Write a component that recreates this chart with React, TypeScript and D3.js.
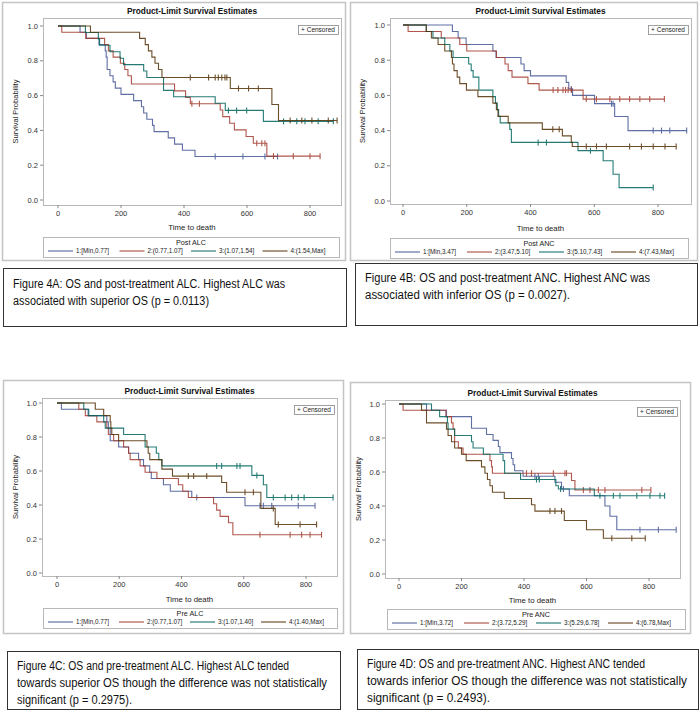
import React from "react";
import * as d3 from "d3";

type Step = [number, number];

// ---- Figure 4A: Post ALC ----
const postAlc1: Step[] = [[0, 1], [70, 0.964], [90, 0.929], [130, 0.893], [150, 0.857], [153, 0.821], [156, 0.75], [165, 0.714], [175, 0.679], [182, 0.643], [200, 0.607], [240, 0.571], [265, 0.536], [272, 0.5], [282, 0.464], [300, 0.429], [305, 0.393], [350, 0.357], [370, 0.321], [395, 0.286], [435, 0.25], [697, 0.25]];
const postAlc1Cens = [499, 587, 657, 697];
const postAlc2: Step[] = [[0, 1], [12, 0.964], [88, 0.929], [148, 0.893], [160, 0.857], [175, 0.821], [198, 0.786], [212, 0.75], [222, 0.714], [233, 0.667], [370, 0.627], [405, 0.59], [420, 0.553], [515, 0.517], [523, 0.479], [545, 0.441], [560, 0.403], [597, 0.365], [620, 0.326], [663, 0.252], [832, 0.252]];
const postAlc2Cens = [425, 449, 631, 647, 657, 684, 747, 800, 832];
const postAlc3: Step[] = [[0, 1], [87, 0.963], [128, 0.926], [132, 0.889], [165, 0.852], [197, 0.815], [208, 0.778], [272, 0.741], [282, 0.704], [335, 0.63], [367, 0.593], [499, 0.556], [531, 0.515], [652, 0.452], [874, 0.452]];
const postAlc3Cens = [541, 567, 599, 716, 758, 784, 826, 874];
const postAlc4: Step[] = [[0, 1], [103, 0.964], [259, 0.929], [277, 0.893], [287, 0.857], [298, 0.821], [308, 0.786], [319, 0.75], [330, 0.704], [547, 0.641], [679, 0.549], [700, 0.457], [886, 0.457]];
const postAlc4Cens = [420, 478, 499, 509, 520, 530, 536, 573, 605, 636, 737, 774, 806, 858, 886];

// ---- Figure 4B: Post ANC ----
const postAnc1: Step[] = [[0, 1], [155, 0.963], [173, 0.926], [198, 0.889], [282, 0.852], [292, 0.815], [370, 0.778], [380, 0.741], [400, 0.711], [512, 0.674], [520, 0.637], [532, 0.6], [601, 0.553], [664, 0.48], [706, 0.4], [890, 0.4]];
const postAnc1Cens = [528, 654, 659, 785, 811, 837, 890];
const postAnc2: Step[] = [[0, 1], [16, 0.963], [120, 0.926], [178, 0.889], [200, 0.852], [293, 0.815], [320, 0.778], [330, 0.741], [342, 0.704], [392, 0.667], [427, 0.63], [565, 0.579], [820, 0.579]];
const postAnc2Cens = [471, 486, 502, 510, 518, 528, 575, 607, 649, 680, 711, 743, 774, 820];
const postAnc3: Step[] = [[0, 1], [73, 0.963], [94, 0.926], [131, 0.889], [147, 0.852], [157, 0.815], [206, 0.778], [214, 0.741], [220, 0.704], [238, 0.63], [282, 0.593], [290, 0.556], [296, 0.519], [300, 0.481], [305, 0.444], [335, 0.407], [340, 0.333], [549, 0.286], [628, 0.229], [659, 0.152], [678, 0.076], [785, 0.076]];
const postAnc3Cens = [424, 450, 588, 785];
const postAnc4: Step[] = [[0, 1], [73, 0.963], [89, 0.926], [110, 0.889], [131, 0.852], [152, 0.815], [155, 0.778], [160, 0.741], [170, 0.704], [178, 0.667], [199, 0.63], [235, 0.593], [282, 0.556], [293, 0.519], [298, 0.481], [330, 0.444], [437, 0.407], [500, 0.37], [528, 0.333], [531, 0.31], [857, 0.31]];
const postAnc4Cens = [470, 490, 575, 607, 638, 711, 748, 785, 822, 857];

// ---- Figure 4C: Pre ALC ----
const preAlc1: Step[] = [[0, 1], [14, 0.963], [100, 0.926], [160, 0.889], [165, 0.852], [171, 0.778], [198, 0.741], [230, 0.704], [262, 0.667], [278, 0.63], [298, 0.593], [303, 0.556], [342, 0.519], [364, 0.481], [433, 0.444], [604, 0.396], [829, 0.396]];
const preAlc1Cens = [449, 652, 663, 690, 775, 829];
const preAlc2: Step[] = [[0, 1], [70, 0.963], [91, 0.926], [128, 0.889], [160, 0.852], [165, 0.815], [182, 0.778], [214, 0.741], [230, 0.704], [235, 0.667], [267, 0.63], [283, 0.593], [321, 0.556], [390, 0.519], [404, 0.481], [422, 0.444], [503, 0.407], [513, 0.37], [524, 0.333], [551, 0.296], [565, 0.225], [850, 0.225]];
const preAlc2Cens = [652, 749, 786, 813, 850];
const preAlc3: Step[] = [[0, 1], [86, 0.963], [102, 0.926], [150, 0.889], [155, 0.852], [214, 0.815], [283, 0.741], [319, 0.704], [327, 0.667], [337, 0.63], [626, 0.574], [663, 0.519], [674, 0.444], [887, 0.444]];
const preAlc3Cens = [513, 529, 578, 588, 642, 695, 733, 754, 775, 794, 887];
const preAlc4: Step[] = [[0, 1], [123, 0.963], [150, 0.926], [171, 0.889], [173, 0.852], [176, 0.815], [198, 0.778], [289, 0.741], [293, 0.704], [298, 0.667], [337, 0.611], [371, 0.57], [529, 0.532], [545, 0.475], [655, 0.38], [701, 0.285], [834, 0.285]];
const preAlc4Cens = [422, 439, 481, 604, 631, 695, 711, 781, 834];

// ---- Figure 4D: Pre ANC ----
const preAnc1: Step[] = [[0, 1], [88, 0.963], [152, 0.926], [232, 0.857], [280, 0.821], [301, 0.786], [318, 0.75], [323, 0.714], [360, 0.679], [365, 0.643], [370, 0.607], [397, 0.575], [499, 0.54], [520, 0.5], [545, 0.46], [659, 0.4], [675, 0.34], [697, 0.26], [887, 0.26]];
const preAnc1Cens = [435, 446, 526, 771, 830, 887];
const preAnc2: Step[] = [[0, 1], [13, 0.963], [150, 0.926], [168, 0.889], [173, 0.852], [178, 0.778], [190, 0.741], [205, 0.704], [291, 0.667], [296, 0.63], [299, 0.593], [552, 0.55], [563, 0.494], [806, 0.494]];
const preAnc2Cens = [408, 424, 494, 531, 536, 590, 611, 638, 659, 777, 806];
const preAnc3: Step[] = [[0, 1], [104, 0.963], [130, 0.926], [155, 0.889], [157, 0.852], [178, 0.815], [232, 0.778], [237, 0.741], [270, 0.704], [333, 0.667], [338, 0.593], [389, 0.556], [502, 0.519], [510, 0.5], [625, 0.46], [850, 0.46]];
const preAnc3Cens = [440, 449, 517, 643, 686, 707, 761, 803, 835, 850];
const preAnc4: Step[] = [[0, 1], [72, 0.963], [88, 0.889], [152, 0.852], [157, 0.815], [168, 0.778], [178, 0.741], [200, 0.704], [215, 0.667], [264, 0.63], [275, 0.593], [283, 0.556], [291, 0.519], [299, 0.481], [337, 0.444], [424, 0.407], [435, 0.37], [529, 0.315], [600, 0.26], [654, 0.21], [788, 0.21]];
const preAnc4Cens = [483, 499, 520, 681, 745, 788];

const legendTitles = ["Post ALC", "Post ANC", "Pre ALC", "Pre ANC"];
const legendLabels = [
  ["1:[Min,0.77]", "2:(0.77,1.07]", "3:(1.07,1.54]", "4:(1.54,Max]"],
  ["1:[Min,3.47]", "2:(3.47,5.10]", "3:(5.10,7.43]", "4:(7.43,Max]"],
  ["1:[Min,0.77]", "2:(0.77,1.07]", "3:(1.07,1.40]", "4:(1.40,Max]"],
  ["1:[Min,3.72]", "2:(3.72,5.29]", "3:(5.29,6.78]", "4:(6.78,Max]"],
];
const captions = [
  ["Figure 4A: OS and post-treatment ALC. Highest ALC was", "associated with superior OS (p = 0.0113)"],
  ["Figure 4B: OS and post-treatment ANC. Highest ANC was", "associated with inferior OS (p = 0.0027)."],
  ["Figure 4C: OS and pre-treatment ALC. Highest ALC tended", "towards superior OS though the difference was not statistically", "significant (p = 0.2975)."],
  ["Figure 4D: OS and pre-treatment ANC. Highest ANC tended", "towards inferior OS though the difference was not statistically", "significant (p = 0.2493)."],
];
const xTicks = [0, 200, 400, 600, 800];
const yTicks = [0, 0.2, 0.4, 0.6, 0.8, 1.0];

const curves = [
  [[postAlc1, postAlc1Cens], [postAlc2, postAlc2Cens], [postAlc3, postAlc3Cens], [postAlc4, postAlc4Cens]],
  [[postAnc1, postAnc1Cens], [postAnc2, postAnc2Cens], [postAnc3, postAnc3Cens], [postAnc4, postAnc4Cens]],
  [[preAlc1, preAlc1Cens], [preAlc2, preAlc2Cens], [preAlc3, preAlc3Cens], [preAlc4, preAlc4Cens]],
  [[preAnc1, preAnc1Cens], [preAnc2, preAnc2Cens], [preAnc3, preAnc3Cens], [preAnc4, preAnc4Cens]],
] as [Step[], number[]][][];

const colors = ["#445694", "#a23a2e", "#01665e", "#543005"];
const FONT = "'Liberation Sans', Arial, sans-serif";

// layout of each panel (pixels)
const layouts = [
  { frame: [2, 2, 343, 258], plot: [43, 18, 298, 187], xr: [58, 310], yr: [200, 26], xLab: 227, yLab: 15, leg: [43, 237, 296, 20], cap: [3, 268, 343, 58], capY: 284, capW: [272, 196] },
  { frame: [350, 2, 347, 258], plot: [390, 18, 301, 186], xr: [403, 658], yr: [201, 25], xLab: 228, yLab: 362, leg: [390, 238, 298, 20], cap: [355, 263, 342, 62], capY: 278, capW: [285, 205] },
  { frame: [3, 380, 340, 253], plot: [42, 398, 295, 178], xr: [57, 306], yr: [573, 403], xLab: 599, yLab: 15, leg: [43, 608, 294, 20], cap: [7, 651, 333, 58], capY: 666, capW: [272, 310, 115] },
  { frame: [350, 382, 340, 251], plot: [385, 400, 295, 178], xr: [399, 649], yr: [574, 404], xLab: 600, yLab: 358, leg: [387, 609, 298, 20], cap: [357, 649, 341, 60], capY: 664, capW: [278, 320, 123] },
];

const survAt = (steps: Step[], t: number) => {
  let s = 1;
  for (const [ti, si] of steps) if (ti <= t) s = si;
  return s;
};

const Panel = ({ i }: { i: number }) => {
  const L = layouts[i];
  const x = d3.scaleLinear().domain([0, 800]).range(L.xr);
  const y = d3.scaleLinear().domain([0, 1]).range(L.yr);
  const line = d3
    .line<Step>()
    .x((d) => x(d[0]))
    .y((d) => y(d[1]))
    .curve(d3.curveStepAfter);
  const [px, py, pw, ph] = L.plot;
  const [lx, ly, lw, lh] = L.leg;
  const [cx, cy, cw, ch] = L.cap;
  const cbW = 40;
  return (
    <g>
      <rect x={L.frame[0] + 0.5} y={L.frame[1] + 0.5} width={L.frame[2]} height={L.frame[3]} fill="#fff" stroke="#c4c4c4" strokeWidth={1.5} />
      <text x={px + pw / 2} y={py - 4} textAnchor="middle" fontFamily={FONT} fontWeight="bold" fontSize={8.3} fill="#111">
        Product-Limit Survival Estimates
      </text>
      <rect x={px + 0.5} y={py + 0.5} width={pw} height={ph} fill="#fff" stroke="#b8b8b8" />
      {/* axes ticks */}
      {yTicks.map((t) => (
        <g key={"y" + t}>
          <line x1={px - 3} x2={px} y1={y(t)} y2={y(t)} stroke="#888" />
          <text x={px - 5} y={y(t)} dy="0.35em" textAnchor="end" fontFamily={FONT} fontSize={7.5} fill="#333">
            {d3.format(".1f")(t)}
          </text>
        </g>
      ))}
      {xTicks.map((t) => (
        <g key={"x" + t}>
          <line x1={x(t)} x2={x(t)} y1={py + ph} y2={py + ph + 3} stroke="#888" />
          <text x={x(t)} y={py + ph + 11} textAnchor="middle" fontFamily={FONT} fontSize={7.5} fill="#333">
            {t}
          </text>
        </g>
      ))}
      <text x={px + pw / 2} y={L.xLab} dy="0.35em" textAnchor="middle" fontFamily={FONT} fontSize={7.8} fill="#222">
        Time to death
      </text>
      <text transform={`translate(${L.yLab},${py + ph / 2}) rotate(-90)`} dy="0.35em" textAnchor="middle" fontFamily={FONT} fontSize={7.5} fill="#222">
        Survival Probability
      </text>
      {/* curves */}
      {curves[i].map(([steps, cens], k) => (
        <g key={k} stroke={colors[k]} fill="none" strokeWidth={1.1} opacity={0.85}>
          <path d={line(steps) || ""} />
          {cens.map((c, j) => (
            <line key={j} x1={x(c)} x2={x(c)} y1={y(survAt(steps, c)) - 3} y2={y(survAt(steps, c)) + 3} />
          ))}
        </g>
      ))}
      {/* censored legend */}
      <rect x={px + pw - 3 - cbW + 0.5} y={py + 7.5} width={cbW} height={9} fill="#fff" stroke="#888" strokeWidth={0.8} />
      <text x={px + pw - 3 - cbW / 2} y={py + 12} dy="0.35em" textAnchor="middle" fontFamily={FONT} fontSize={6.5} fill="#222">
        + Censored
      </text>
      {/* group legend */}
      <rect x={lx + 0.5} y={ly + 0.5} width={lw} height={lh} fill="#fff" stroke="#b8b8b8" />
      <text x={lx + lw / 2} y={ly + 5.5} dy="0.35em" textAnchor="middle" fontFamily={FONT} fontSize={7.2} fill="#222">
        {legendTitles[i]}
      </text>
      {legendLabels[i].map((lab, k) => {
        const sx = lx + 5 + (k * (lw - 10)) / 4;
        return (
          <g key={lab}>
            <line x1={sx} x2={sx + 25} y1={ly + 14} y2={ly + 14} stroke={colors[k]} strokeWidth={1} />
            <text x={sx + 28} y={ly + 14} dy="0.35em" fontFamily={FONT} fontSize={6.3} fill="#222">
              {lab}
            </text>
          </g>
        );
      })}
      {/* caption box */}
      <rect x={cx + 0.5} y={cy + 0.5} width={cw} height={ch} fill="#fff" stroke="#333" strokeWidth={1} />
      {captions[i].map((c, k) => (
        <text key={k} x={cx + 10} y={L.capY + k * 17} dy="0.35em" fontFamily={FONT} fontSize={12} fill="#111" textLength={L.capW[k]} lengthAdjust="spacingAndGlyphs">
          {c}
        </text>
      ))}
    </g>
  );
};

export default function App() {
  return (
    <div style={{ position: "absolute", left: 0, top: 0 }}>
      <svg width={700} height={711} style={{ display: "block", background: "#fff" }}>
        {layouts.map((_, i) => (
          <Panel key={i} i={i} />
        ))}
      </svg>
    </div>
  );
}
